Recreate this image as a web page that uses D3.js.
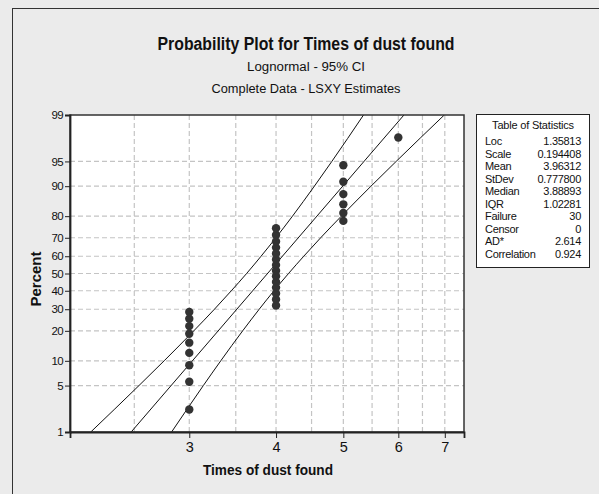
<!DOCTYPE html>
<html>
<head>
<meta charset="utf-8">
<script src="https://cdn.jsdelivr.net/npm/d3@7"></script>
<style>
  html, body { margin: 0; padding: 0; background: #ebebeb; }
  svg { display: block; }
  text { font-family: "Liberation Sans", Arial, sans-serif; fill: #111; }
</style>
</head>
<body>
<svg id="chart" width="599" height="494"></svg>
<script>
// ---------- data ----------
const titleText = "Probability Plot for Times of dust found";
const subtitle1 = "Lognormal - 95% CI";
const subtitle2 = "Complete Data - LSXY Estimates";
const xLabel = "Times of dust found";
const yLabel = "Percent";

// observations (times) and their plotted percents
const times = [3,3,3,3,3,3,3,3,3,
               4,4,4,4,4,4,4,4,4,4,4,4,4,4,
               5,5,5,5,5,5,
               6];
const percents = [2.3, 5.6, 8.9, 12.2, 15.5, 18.8, 22.0, 25.3, 28.6,
                  31.9, 35.2, 38.5, 41.8, 45.1, 48.4, 51.6, 54.9, 58.2, 61.5, 64.8, 68.1, 71.4, 74.7,
                  78.0, 81.3, 84.5, 87.8, 91.1, 94.4,
                  97.7];

// fitted line
const fitPercent = [1, 99];
const fitTime = [2.474, 6.113];

// 95% confidence bands
const ciPercent = [1, 5, 10, 20, 30, 40, 50, 60, 70, 80, 90, 95, 99];
const ciLower = [2.164, 2.539, 2.760, 3.045, 3.261, 3.449, 3.628, 3.806, 3.998, 4.224, 4.542, 4.813, 5.346];
const ciUpper = [2.829, 3.143, 3.330, 3.581, 3.783, 3.973, 4.169, 4.385, 4.638, 4.967, 5.480, 5.957, 6.988];

// axes
const xTicks = [3, 4, 5, 6, 7];
const xGrid = [2.5, 3, 3.5, 4, 4.5, 5, 5.5, 6, 6.5, 7];
const yTicks = [1, 5, 10, 20, 30, 40, 50, 60, 70, 80, 90, 95, 99];
const yGrid = [5, 10, 20, 30, 40, 50, 60, 70, 80, 90, 95];
const xDomain = [2.02, 7.46];
const yDomain = [1, 99];

// statistics table
const statLabels = ["Loc", "Scale", "Mean", "StDev", "Median", "IQR", "Failure", "Censor", "AD*", "Correlation"];
const statValues = ["1.35813", "0.194408", "3.96312", "0.777800", "3.88893", "1.02281", "30", "0", "2.614", "0.924"];

// ---------- helpers ----------
// inverse standard normal CDF (Acklam)
function probit(p) {
  const a = [-3.969683028665376e+01, 2.209460984245205e+02, -2.759285104469687e+02, 1.383577518672690e+02, -3.066479806614716e+01, 2.506628277459239e+00];
  const b = [-5.447609879822406e+01, 1.615858368580409e+02, -1.556989798598866e+02, 6.680131188771972e+01, -1.328068155288572e+01];
  const c = [-7.784894002430293e-03, -3.223964580411365e-01, -2.400758277161838e+00, -2.549732539343734e+00, 4.374664141464968e+00, 2.938163982698783e+00];
  const d = [7.784695709041462e-03, 3.224671290700398e-01, 2.445134137142996e+00, 3.754408661907416e+00];
  const pl = 0.02425, ph = 1 - pl;
  let q, r;
  if (p < pl) {
    q = Math.sqrt(-2 * Math.log(p));
    return (((((c[0]*q+c[1])*q+c[2])*q+c[3])*q+c[4])*q+c[5]) / ((((d[0]*q+d[1])*q+d[2])*q+d[3])*q+1);
  } else if (p <= ph) {
    q = p - 0.5; r = q*q;
    return (((((a[0]*r+a[1])*r+a[2])*r+a[3])*r+a[4])*r+a[5])*q / (((((b[0]*r+b[1])*r+b[2])*r+b[3])*r+b[4])*r+1);
  } else {
    q = Math.sqrt(-2 * Math.log(1 - p));
    return -(((((c[0]*q+c[1])*q+c[2])*q+c[3])*q+c[4])*q+c[5]) / ((((d[0]*q+d[1])*q+d[2])*q+d[3])*q+1);
  }
}
const z = pct => probit(pct / 100);

// ---------- layout ----------
const svg = d3.select("#chart");
const plot = { left: 70, right: 464, top: 115, bottom: 432 };

const x = d3.scaleLog().domain(xDomain).range([plot.left, plot.right]);
const yz = d3.scaleLinear().domain([z(yDomain[0]), z(yDomain[1])]).range([plot.bottom, plot.top]);
const y = pct => yz(z(pct));

// outer frame
svg.append("rect").attr("x", 12.5).attr("y", 8.5).attr("width", 620).attr("height", 520)
  .attr("fill", "#ebebeb").attr("stroke", "#333").attr("stroke-width", 1);

// titles
svg.append("text").attr("x", 306).attr("y", 50).attr("text-anchor", "middle")
  .attr("font-size", 17.5).attr("font-weight", "bold")
  .attr("textLength", 297).attr("lengthAdjust", "spacingAndGlyphs").text(titleText);
svg.append("text").attr("x", 306).attr("y", 70.5).attr("text-anchor", "middle")
  .attr("font-size", 12.5).attr("textLength", 118).attr("lengthAdjust", "spacingAndGlyphs").text(subtitle1);
svg.append("text").attr("x", 306).attr("y", 93).attr("text-anchor", "middle")
  .attr("font-size", 12.5).attr("textLength", 189).attr("lengthAdjust", "spacingAndGlyphs").text(subtitle2);

// plot background
svg.append("rect").attr("x", plot.left).attr("y", plot.top)
  .attr("width", plot.right - plot.left).attr("height", plot.bottom - plot.top)
  .attr("fill", "#fff");

// grid
const grid = svg.append("g").attr("stroke", "#c4c4c4").attr("stroke-width", 1.2).attr("stroke-dasharray", "5,3");
grid.selectAll("line.gx").data(xGrid).join("line").attr("class", "gx")
  .attr("x1", d => x(d)).attr("x2", d => x(d)).attr("y1", plot.top).attr("y2", plot.bottom);
grid.selectAll("line.gy").data(yGrid).join("line").attr("class", "gy")
  .attr("x1", plot.left).attr("x2", plot.right).attr("y1", d => y(d)).attr("y2", d => y(d));

// clip
svg.append("clipPath").attr("id", "clip").append("rect")
  .attr("x", plot.left).attr("y", plot.top)
  .attr("width", plot.right - plot.left).attr("height", plot.bottom - plot.top);

const lineGen = d3.line().x(d => x(d[0])).y(d => y(d[1])).curve(d3.curveMonotoneX);
const lines = svg.append("g").attr("clip-path", "url(#clip)")
  .attr("fill", "none").attr("stroke", "#111").attr("stroke-width", 1);
lines.append("path").attr("d", lineGen(fitTime.map((t, i) => [t, fitPercent[i]])));
lines.append("path").attr("d", lineGen(ciLower.map((t, i) => [t, ciPercent[i]])));
lines.append("path").attr("d", lineGen(ciUpper.map((t, i) => [t, ciPercent[i]])));

// points
svg.append("g").selectAll("circle").data(times.map((t, i) => [t, percents[i]])).join("circle")
  .attr("cx", d => x(d[0])).attr("cy", d => y(d[1])).attr("r", 4.2)
  .attr("fill", "#333");

// plot border
svg.append("rect").attr("x", plot.left).attr("y", plot.top)
  .attr("width", plot.right - plot.left).attr("height", plot.bottom - plot.top)
  .attr("fill", "none").attr("stroke", "#333").attr("stroke-width", 1.5);

// axes
const xAxis = d3.axisBottom(x).tickValues(xTicks).tickFormat(d3.format("d")).tickSize(6).tickPadding(4);
const gx = svg.append("g").attr("transform", `translate(0,${plot.bottom})`).call(xAxis);
gx.select(".domain").attr("stroke", "#222").attr("stroke-width", 1.8);
gx.selectAll(".tick line").attr("stroke", "#222");
gx.selectAll(".tick text").attr("font-size", 14.5).attr("font-family", "Liberation Sans, Arial, sans-serif").attr("fill", "#111");

const yAxis = d3.axisLeft(yz).tickValues(yTicks.map(z)).tickFormat((d, i) => yTicks[i]).tickSize(5).tickPadding(2);
const gy = svg.append("g").attr("transform", `translate(${plot.left},0)`).call(yAxis);
gy.select(".domain").attr("stroke", "#222").attr("stroke-width", 1.8);
gy.selectAll(".tick line").attr("stroke", "#222");
gy.selectAll(".tick text").attr("font-size", 11.5).attr("font-family", "Liberation Sans, Arial, sans-serif").attr("fill", "#111")
  .attr("letter-spacing", -0.6);

// axis labels
svg.append("text").attr("x", 268).attr("y", 475).attr("text-anchor", "middle")
  .attr("font-size", 14).attr("font-weight", "bold")
  .attr("textLength", 130).attr("lengthAdjust", "spacingAndGlyphs").text(xLabel);
svg.append("text").attr("transform", "translate(41,279) rotate(-90)").attr("text-anchor", "middle")
  .attr("font-size", 14).attr("font-weight", "bold")
  .attr("textLength", 55).attr("lengthAdjust", "spacingAndGlyphs").text(yLabel);

// statistics table
const tbl = { x: 476, y: 114, w: 113, h: 153, headY: 15, firstRowY: 31, rowH: 12.5, padL: 9, padR: 8 };
const tg = svg.append("g");
tg.append("rect").attr("x", tbl.x + 0.5).attr("y", tbl.y + 0.5).attr("width", tbl.w).attr("height", tbl.h)
  .attr("fill", "#fff").attr("stroke", "#222").attr("stroke-width", 1);
tg.append("text").attr("x", tbl.x + tbl.w / 2 + 0.5).attr("y", tbl.y + tbl.headY).attr("text-anchor", "middle")
  .attr("font-size", 11).attr("letter-spacing", -0.2).text("Table of Statistics");
statLabels.forEach((lab, i) => {
  const yy = tbl.y + tbl.firstRowY + i * tbl.rowH;
  tg.append("text").attr("x", tbl.x + tbl.padL).attr("y", yy).attr("font-size", 11).attr("letter-spacing", -0.3).text(lab);
  tg.append("text").attr("x", tbl.x + tbl.w - tbl.padR).attr("y", yy).attr("text-anchor", "end")
    .attr("font-size", 11).attr("letter-spacing", -0.3).text(statValues[i]);
});
</script>
</body>
</html>
